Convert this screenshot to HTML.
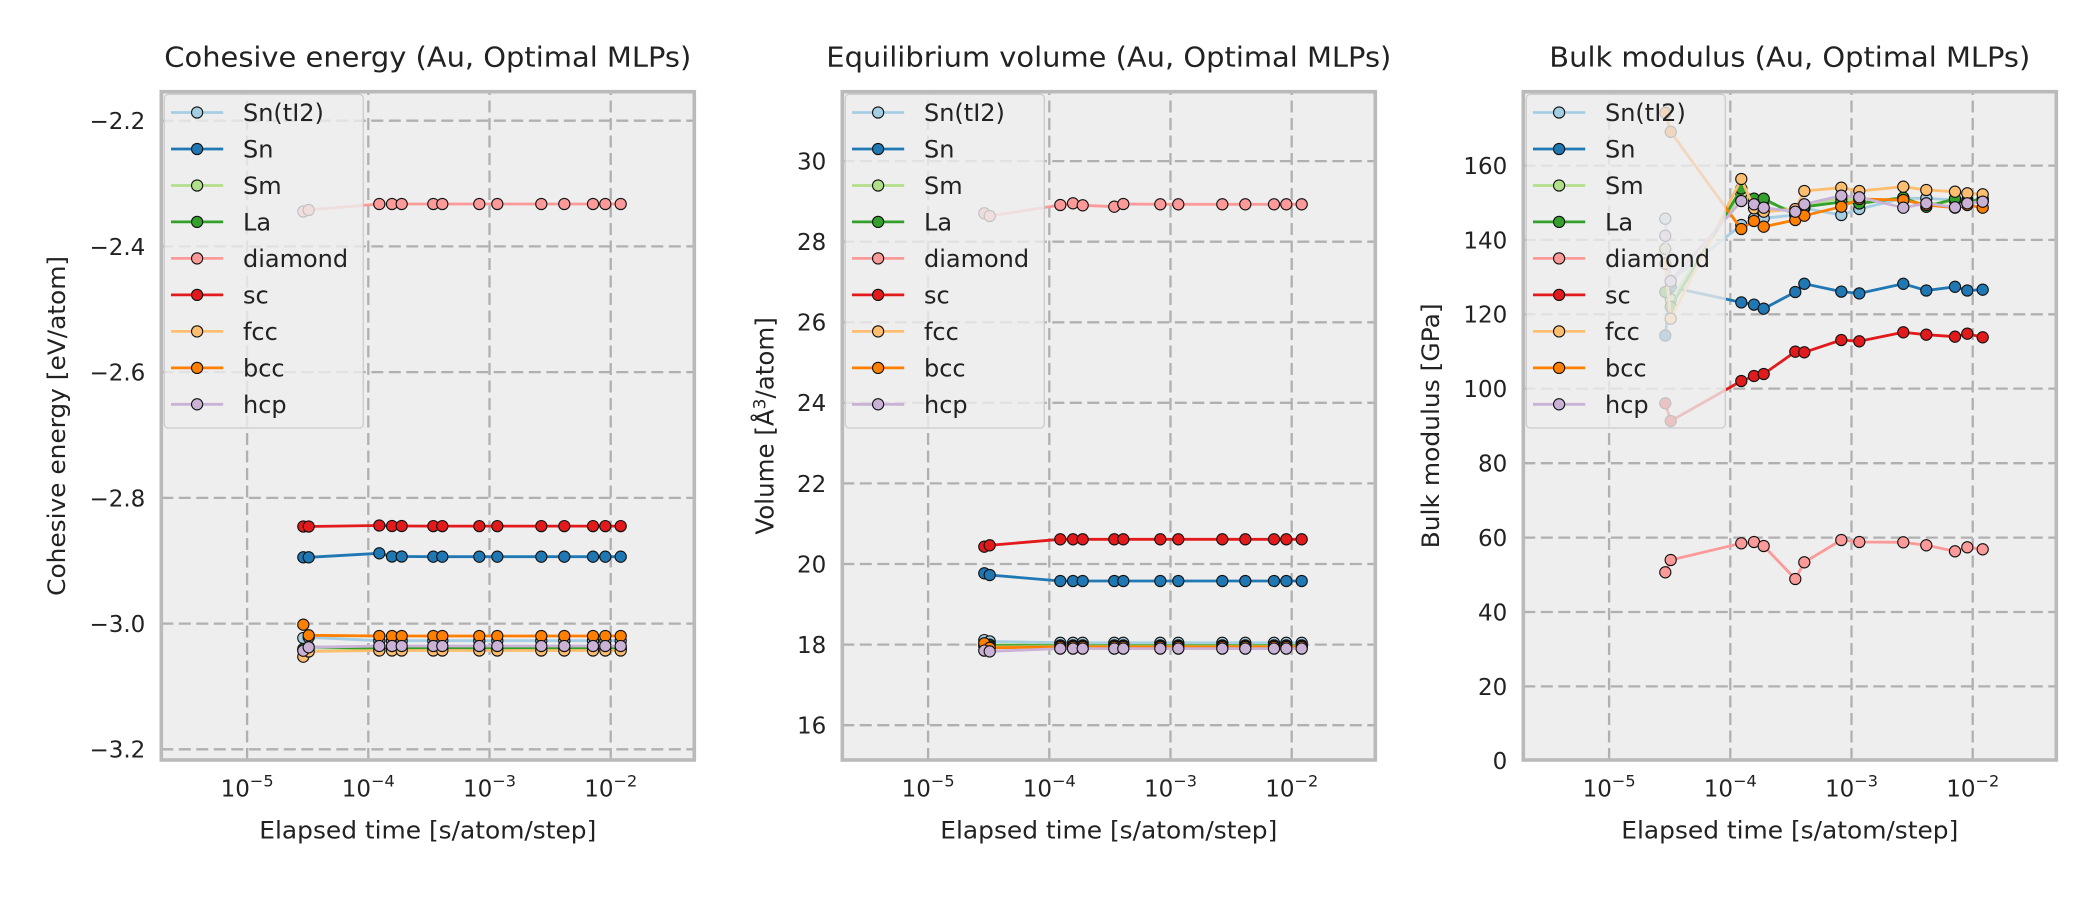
<!DOCTYPE html>
<html><head><meta charset="utf-8"><style>
html,body{margin:0;padding:0;background:#fff;}
svg{display:block;}
text{font-family:"DejaVu Sans","Liberation Sans",sans-serif;fill:#222;}
.g line{stroke:#b0b0b0;stroke-width:2.3;stroke-dasharray:12 5.5;}
.pl{fill:none;stroke-width:2.8;stroke-linejoin:round;stroke-linecap:round;}
.sp{fill:none;stroke:#bababa;stroke-width:3.6;}
.t{font-size:27.6px;}
.l{font-size:23px;}
.lb{font-size:24px;}
.lg{font-size:24px;}
</style></head><body>
<svg width="2100" height="900" viewBox="0 0 2100 900">
<defs><circle id="m" r="5.6" stroke="#111" stroke-width="1.1"/></defs>
<rect width="2100" height="900" fill="#fff"/>

<!-- ================= PANEL 1 ================= -->
<rect x="161.3" y="91.7" width="533" height="668.3" fill="#eeeeee"/>
<g class="g">
<line x1="161.3" y1="120.7" x2="694.3" y2="120.7"/>
<line x1="161.3" y1="246.4" x2="694.3" y2="246.4"/>
<line x1="161.3" y1="372.1" x2="694.3" y2="372.1"/>
<line x1="161.3" y1="497.9" x2="694.3" y2="497.9"/>
<line x1="161.3" y1="623.6" x2="694.3" y2="623.6"/>
<line x1="161.3" y1="749.3" x2="694.3" y2="749.3"/>
<line x1="247.1" y1="760" x2="247.1" y2="91.7"/>
<line x1="368.3" y1="760" x2="368.3" y2="91.7"/>
<line x1="489.5" y1="760" x2="489.5" y2="91.7"/>
<line x1="610.7" y1="760" x2="610.7" y2="91.7"/>
</g>
<polyline class="pl" stroke="#a6cee3" points="303.3,638 308.7,637.3 379.3,640.7 392,640.7 401.7,640.7 433.3,640.7 442.3,640.7 479.3,640.7 497.3,640.7 541.3,640.7 564.3,640.7 593,640.7 605.3,640.7 620.7,640.7"/>
<g fill="#a6cee3"><use href="#m" x="303.3" y="638"/><use href="#m" x="308.7" y="637.3"/><use href="#m" x="379.3" y="640.7"/><use href="#m" x="392" y="640.7"/><use href="#m" x="401.7" y="640.7"/><use href="#m" x="433.3" y="640.7"/><use href="#m" x="442.3" y="640.7"/><use href="#m" x="479.3" y="640.7"/><use href="#m" x="497.3" y="640.7"/><use href="#m" x="541.3" y="640.7"/><use href="#m" x="564.3" y="640.7"/><use href="#m" x="593" y="640.7"/><use href="#m" x="605.3" y="640.7"/><use href="#m" x="620.7" y="640.7"/></g>
<polyline class="pl" stroke="#1f78b4" points="303.3,557.3 308.7,557.3 379.3,553.3 392,556.5 401.7,556.5 433.3,556.7 442.3,556.7 479.3,556.7 497.3,556.7 541.3,556.7 564.3,556.7 593,556.7 605.3,556.7 620.7,556.7"/>
<g fill="#1f78b4"><use href="#m" x="303.3" y="557.3"/><use href="#m" x="308.7" y="557.3"/><use href="#m" x="379.3" y="553.3"/><use href="#m" x="392" y="556.5"/><use href="#m" x="401.7" y="556.5"/><use href="#m" x="433.3" y="556.7"/><use href="#m" x="442.3" y="556.7"/><use href="#m" x="479.3" y="556.7"/><use href="#m" x="497.3" y="556.7"/><use href="#m" x="541.3" y="556.7"/><use href="#m" x="564.3" y="556.7"/><use href="#m" x="593" y="556.7"/><use href="#m" x="605.3" y="556.7"/><use href="#m" x="620.7" y="556.7"/></g>
<polyline class="pl" stroke="#b2df8a" points="303.3,650 308.7,648 379.3,648.8 392,648.8 401.7,648.8 433.3,648.8 442.3,648.8 479.3,648.8 497.3,648.8 541.3,648.8 564.3,648.8 593,648.8 605.3,648.8 620.7,648.8"/>
<g fill="#b2df8a"><use href="#m" x="303.3" y="650"/><use href="#m" x="308.7" y="648"/><use href="#m" x="379.3" y="648.8"/><use href="#m" x="392" y="648.8"/><use href="#m" x="401.7" y="648.8"/><use href="#m" x="433.3" y="648.8"/><use href="#m" x="442.3" y="648.8"/><use href="#m" x="479.3" y="648.8"/><use href="#m" x="497.3" y="648.8"/><use href="#m" x="541.3" y="648.8"/><use href="#m" x="564.3" y="648.8"/><use href="#m" x="593" y="648.8"/><use href="#m" x="605.3" y="648.8"/><use href="#m" x="620.7" y="648.8"/></g>
<polyline class="pl" stroke="#33a02c" points="303.3,649 308.7,647 379.3,648.3 392,648.3 401.7,648.3 433.3,648.3 442.3,648.3 479.3,648.3 497.3,648.3 541.3,648.3 564.3,648.3 593,648.3 605.3,648.3 620.7,648.3"/>
<g fill="#33a02c"><use href="#m" x="303.3" y="649"/><use href="#m" x="308.7" y="647"/><use href="#m" x="379.3" y="648.3"/><use href="#m" x="392" y="648.3"/><use href="#m" x="401.7" y="648.3"/><use href="#m" x="433.3" y="648.3"/><use href="#m" x="442.3" y="648.3"/><use href="#m" x="479.3" y="648.3"/><use href="#m" x="497.3" y="648.3"/><use href="#m" x="541.3" y="648.3"/><use href="#m" x="564.3" y="648.3"/><use href="#m" x="593" y="648.3"/><use href="#m" x="605.3" y="648.3"/><use href="#m" x="620.7" y="648.3"/></g>
<polyline class="pl" stroke="#fb9a99" points="303.3,211.5 308.7,210 379.3,204 392,204 401.7,204 433.3,204 442.3,204 479.3,204 497.3,204 541.3,204 564.3,204 593,204 605.3,204 620.7,204"/>
<g fill="#fb9a99"><use href="#m" x="303.3" y="211.5"/><use href="#m" x="308.7" y="210"/><use href="#m" x="379.3" y="204"/><use href="#m" x="392" y="204"/><use href="#m" x="401.7" y="204"/><use href="#m" x="433.3" y="204"/><use href="#m" x="442.3" y="204"/><use href="#m" x="479.3" y="204"/><use href="#m" x="497.3" y="204"/><use href="#m" x="541.3" y="204"/><use href="#m" x="564.3" y="204"/><use href="#m" x="593" y="204"/><use href="#m" x="605.3" y="204"/><use href="#m" x="620.7" y="204"/></g>
<polyline class="pl" stroke="#e31a1c" points="303.3,526.5 308.7,526.5 379.3,525.5 392,526 401.7,526 433.3,526.1 442.3,526.1 479.3,526.1 497.3,526.1 541.3,526.1 564.3,526.1 593,526.1 605.3,526.1 620.7,526.1"/>
<g fill="#e31a1c"><use href="#m" x="303.3" y="526.5"/><use href="#m" x="308.7" y="526.5"/><use href="#m" x="379.3" y="525.5"/><use href="#m" x="392" y="526"/><use href="#m" x="401.7" y="526"/><use href="#m" x="433.3" y="526.1"/><use href="#m" x="442.3" y="526.1"/><use href="#m" x="479.3" y="526.1"/><use href="#m" x="497.3" y="526.1"/><use href="#m" x="541.3" y="526.1"/><use href="#m" x="564.3" y="526.1"/><use href="#m" x="593" y="526.1"/><use href="#m" x="605.3" y="526.1"/><use href="#m" x="620.7" y="526.1"/></g>
<polyline class="pl" stroke="#fdbf6f" points="303.3,656.7 308.7,651.5 379.3,650.5 392,650.5 401.7,650.5 433.3,650.5 442.3,650.5 479.3,650.5 497.3,650.5 541.3,650.5 564.3,650.5 593,650.5 605.3,650.5 620.7,650.5"/>
<g fill="#fdbf6f"><use href="#m" x="303.3" y="656.7"/><use href="#m" x="308.7" y="651.5"/><use href="#m" x="379.3" y="650.5"/><use href="#m" x="392" y="650.5"/><use href="#m" x="401.7" y="650.5"/><use href="#m" x="433.3" y="650.5"/><use href="#m" x="442.3" y="650.5"/><use href="#m" x="479.3" y="650.5"/><use href="#m" x="497.3" y="650.5"/><use href="#m" x="541.3" y="650.5"/><use href="#m" x="564.3" y="650.5"/><use href="#m" x="593" y="650.5"/><use href="#m" x="605.3" y="650.5"/><use href="#m" x="620.7" y="650.5"/></g>
<polyline class="pl" stroke="#ff7f00" points="303.3,624.7 308.7,635.3 379.3,636 392,636 401.7,636 433.3,636 442.3,636 479.3,636 497.3,636 541.3,636 564.3,636 593,636 605.3,636 620.7,636"/>
<g fill="#ff7f00"><use href="#m" x="303.3" y="624.7"/><use href="#m" x="308.7" y="635.3"/><use href="#m" x="379.3" y="636"/><use href="#m" x="392" y="636"/><use href="#m" x="401.7" y="636"/><use href="#m" x="433.3" y="636"/><use href="#m" x="442.3" y="636"/><use href="#m" x="479.3" y="636"/><use href="#m" x="497.3" y="636"/><use href="#m" x="541.3" y="636"/><use href="#m" x="564.3" y="636"/><use href="#m" x="593" y="636"/><use href="#m" x="605.3" y="636"/><use href="#m" x="620.7" y="636"/></g>
<polyline class="pl" stroke="#cab2d6" points="303.3,650.7 308.7,647.3 379.3,646 392,646 401.7,646 433.3,646 442.3,646 479.3,646 497.3,646 541.3,646 564.3,646 593,646 605.3,646 620.7,646"/>
<g fill="#cab2d6"><use href="#m" x="303.3" y="650.7"/><use href="#m" x="308.7" y="647.3"/><use href="#m" x="379.3" y="646"/><use href="#m" x="392" y="646"/><use href="#m" x="401.7" y="646"/><use href="#m" x="433.3" y="646"/><use href="#m" x="442.3" y="646"/><use href="#m" x="479.3" y="646"/><use href="#m" x="497.3" y="646"/><use href="#m" x="541.3" y="646"/><use href="#m" x="564.3" y="646"/><use href="#m" x="593" y="646"/><use href="#m" x="605.3" y="646"/><use href="#m" x="620.7" y="646"/></g>
<rect class="sp" x="161.3" y="91.7" width="533" height="668.3"/>
<g transform="translate(161.3,0)">
<rect x="3" y="94.3" width="199" height="333.7" rx="4" fill="#eeeeee" fill-opacity="0.8" stroke="#cccccc" stroke-width="1.3"/>
<g stroke-width="2.8">
<line x1="9.7" y1="112.5" x2="61.9" y2="112.5" stroke="#a6cee3"/><use href="#m" x="35.8" y="112.5" fill="#a6cee3"/>
<line x1="9.7" y1="149" x2="61.9" y2="149" stroke="#1f78b4"/><use href="#m" x="35.8" y="149" fill="#1f78b4"/>
<line x1="9.7" y1="185.5" x2="61.9" y2="185.5" stroke="#b2df8a"/><use href="#m" x="35.8" y="185.5" fill="#b2df8a"/>
<line x1="9.7" y1="221.9" x2="61.9" y2="221.9" stroke="#33a02c"/><use href="#m" x="35.8" y="221.9" fill="#33a02c"/>
<line x1="9.7" y1="258.4" x2="61.9" y2="258.4" stroke="#fb9a99"/><use href="#m" x="35.8" y="258.4" fill="#fb9a99"/>
<line x1="9.7" y1="294.9" x2="61.9" y2="294.9" stroke="#e31a1c"/><use href="#m" x="35.8" y="294.9" fill="#e31a1c"/>
<line x1="9.7" y1="331.4" x2="61.9" y2="331.4" stroke="#fdbf6f"/><use href="#m" x="35.8" y="331.4" fill="#fdbf6f"/>
<line x1="9.7" y1="367.9" x2="61.9" y2="367.9" stroke="#ff7f00"/><use href="#m" x="35.8" y="367.9" fill="#ff7f00"/>
<line x1="9.7" y1="404.3" x2="61.9" y2="404.3" stroke="#cab2d6"/><use href="#m" x="35.8" y="404.3" fill="#cab2d6"/>
</g>
<g class="lg">
<text x="81.7" y="121.2">Sn(tI2)</text><text x="81.7" y="157.7">Sn</text><text x="81.7" y="194.2">Sm</text><text x="81.7" y="230.6">La</text><text x="81.7" y="267.1">diamond</text><text x="81.7" y="303.6">sc</text><text x="81.7" y="340.1">fcc</text><text x="81.7" y="376.6">bcc</text><text x="81.7" y="413">hcp</text>
</g>
</g>
<text class="t" x="427.8" y="66.7" text-anchor="middle" textLength="527" lengthAdjust="spacingAndGlyphs">Cohesive energy (Au, Optimal MLPs)</text>
<g class="l" text-anchor="end">
<text x="145.3" y="129.1">−2.2</text><text x="145.3" y="254.8">−2.4</text><text x="145.3" y="380.5">−2.6</text><text x="145.3" y="506.3">−2.8</text><text x="145.3" y="632">−3.0</text><text x="145.3" y="757.7">−3.2</text>
</g>
<g class="l" text-anchor="middle">
<text x="247.1" y="796.7">10<tspan dy="-10" font-size="16.1">−5</tspan></text>
<text x="368.3" y="796.7">10<tspan dy="-10" font-size="16.1">−4</tspan></text>
<text x="489.5" y="796.7">10<tspan dy="-10" font-size="16.1">−3</tspan></text>
<text x="610.7" y="796.7">10<tspan dy="-10" font-size="16.1">−2</tspan></text>
</g>
<g class="lb" text-anchor="middle">
<text x="427.8" y="838.3" textLength="337" lengthAdjust="spacingAndGlyphs">Elapsed time [s/atom/step]</text>
<text transform="translate(65,425.9) rotate(-90)" textLength="340" lengthAdjust="spacingAndGlyphs">Cohesive energy [eV/atom]</text>
</g>

<!-- ================= PANEL 2 ================= -->
<rect x="842.3" y="91.7" width="533" height="668.3" fill="#eeeeee"/>
<g class="g">
<line x1="842.3" y1="161.1" x2="1375.3" y2="161.1"/>
<line x1="842.3" y1="241.7" x2="1375.3" y2="241.7"/>
<line x1="842.3" y1="322.3" x2="1375.3" y2="322.3"/>
<line x1="842.3" y1="402.8" x2="1375.3" y2="402.8"/>
<line x1="842.3" y1="483.4" x2="1375.3" y2="483.4"/>
<line x1="842.3" y1="564" x2="1375.3" y2="564"/>
<line x1="842.3" y1="644.6" x2="1375.3" y2="644.6"/>
<line x1="842.3" y1="725.2" x2="1375.3" y2="725.2"/>
<line x1="928.1" y1="760" x2="928.1" y2="91.7"/>
<line x1="1049.3" y1="760" x2="1049.3" y2="91.7"/>
<line x1="1170.5" y1="760" x2="1170.5" y2="91.7"/>
<line x1="1291.7" y1="760" x2="1291.7" y2="91.7"/>
</g>
<polyline class="pl" stroke="#a6cee3" points="984.3,640.1 989.7,641.4 1060.3,642.8 1073,642.8 1082.7,642.8 1114.3,642.8 1123.3,642.8 1160.3,642.8 1178.3,642.8 1222.3,642.8 1245.3,642.8 1274,642.8 1286.3,642.8 1301.7,642.8"/>
<g fill="#a6cee3"><use href="#m" x="984.3" y="640.1"/><use href="#m" x="989.7" y="641.4"/><use href="#m" x="1060.3" y="642.8"/><use href="#m" x="1073" y="642.8"/><use href="#m" x="1082.7" y="642.8"/><use href="#m" x="1114.3" y="642.8"/><use href="#m" x="1123.3" y="642.8"/><use href="#m" x="1160.3" y="642.8"/><use href="#m" x="1178.3" y="642.8"/><use href="#m" x="1222.3" y="642.8"/><use href="#m" x="1245.3" y="642.8"/><use href="#m" x="1274" y="642.8"/><use href="#m" x="1286.3" y="642.8"/><use href="#m" x="1301.7" y="642.8"/></g>
<polyline class="pl" stroke="#1f78b4" points="984.3,573.3 989.7,575 1060.3,581 1073,581 1082.7,581 1114.3,581 1123.3,581 1160.3,581 1178.3,581 1222.3,581 1245.3,581 1274,581 1286.3,581 1301.7,581"/>
<g fill="#1f78b4"><use href="#m" x="984.3" y="573.3"/><use href="#m" x="989.7" y="575"/><use href="#m" x="1060.3" y="581"/><use href="#m" x="1073" y="581"/><use href="#m" x="1082.7" y="581"/><use href="#m" x="1114.3" y="581"/><use href="#m" x="1123.3" y="581"/><use href="#m" x="1160.3" y="581"/><use href="#m" x="1178.3" y="581"/><use href="#m" x="1222.3" y="581"/><use href="#m" x="1245.3" y="581"/><use href="#m" x="1274" y="581"/><use href="#m" x="1286.3" y="581"/><use href="#m" x="1301.7" y="581"/></g>
<polyline class="pl" stroke="#b2df8a" points="984.3,643.8 989.7,644.6 1060.3,645.4 1073,645.4 1082.7,645.4 1114.3,645.4 1123.3,645.4 1160.3,645.4 1178.3,645.4 1222.3,645.4 1245.3,645.4 1274,645.4 1286.3,645.4 1301.7,645.4"/>
<g fill="#b2df8a"><use href="#m" x="984.3" y="643.8"/><use href="#m" x="989.7" y="644.6"/><use href="#m" x="1060.3" y="645.4"/><use href="#m" x="1073" y="645.4"/><use href="#m" x="1082.7" y="645.4"/><use href="#m" x="1114.3" y="645.4"/><use href="#m" x="1123.3" y="645.4"/><use href="#m" x="1160.3" y="645.4"/><use href="#m" x="1178.3" y="645.4"/><use href="#m" x="1222.3" y="645.4"/><use href="#m" x="1245.3" y="645.4"/><use href="#m" x="1274" y="645.4"/><use href="#m" x="1286.3" y="645.4"/><use href="#m" x="1301.7" y="645.4"/></g>
<polyline class="pl" stroke="#33a02c" points="984.3,644.6 989.7,645.4 1060.3,645.8 1073,645.8 1082.7,645.8 1114.3,645.8 1123.3,645.8 1160.3,645.8 1178.3,645.8 1222.3,645.8 1245.3,645.8 1274,645.8 1286.3,645.8 1301.7,645.8"/>
<g fill="#33a02c"><use href="#m" x="984.3" y="644.6"/><use href="#m" x="989.7" y="645.4"/><use href="#m" x="1060.3" y="645.8"/><use href="#m" x="1073" y="645.8"/><use href="#m" x="1082.7" y="645.8"/><use href="#m" x="1114.3" y="645.8"/><use href="#m" x="1123.3" y="645.8"/><use href="#m" x="1160.3" y="645.8"/><use href="#m" x="1178.3" y="645.8"/><use href="#m" x="1222.3" y="645.8"/><use href="#m" x="1245.3" y="645.8"/><use href="#m" x="1274" y="645.8"/><use href="#m" x="1286.3" y="645.8"/><use href="#m" x="1301.7" y="645.8"/></g>
<polyline class="pl" stroke="#fb9a99" points="984.3,213.3 989.7,216 1060.3,205 1073,203.3 1082.7,205.3 1114.3,206.7 1123.3,204 1160.3,204.3 1178.3,204.3 1222.3,204.3 1245.3,204.3 1274,204.3 1286.3,204.3 1301.7,204.3"/>
<g fill="#fb9a99"><use href="#m" x="984.3" y="213.3"/><use href="#m" x="989.7" y="216"/><use href="#m" x="1060.3" y="205"/><use href="#m" x="1073" y="203.3"/><use href="#m" x="1082.7" y="205.3"/><use href="#m" x="1114.3" y="206.7"/><use href="#m" x="1123.3" y="204"/><use href="#m" x="1160.3" y="204.3"/><use href="#m" x="1178.3" y="204.3"/><use href="#m" x="1222.3" y="204.3"/><use href="#m" x="1245.3" y="204.3"/><use href="#m" x="1274" y="204.3"/><use href="#m" x="1286.3" y="204.3"/><use href="#m" x="1301.7" y="204.3"/></g>
<polyline class="pl" stroke="#e31a1c" points="984.3,546.7 989.7,545.3 1060.3,539.3 1073,539.3 1082.7,539.3 1114.3,539.3 1123.3,539.3 1160.3,539.3 1178.3,539.3 1222.3,539.3 1245.3,539.3 1274,539.3 1286.3,539.3 1301.7,539.3"/>
<g fill="#e31a1c"><use href="#m" x="984.3" y="546.7"/><use href="#m" x="989.7" y="545.3"/><use href="#m" x="1060.3" y="539.3"/><use href="#m" x="1073" y="539.3"/><use href="#m" x="1082.7" y="539.3"/><use href="#m" x="1114.3" y="539.3"/><use href="#m" x="1123.3" y="539.3"/><use href="#m" x="1160.3" y="539.3"/><use href="#m" x="1178.3" y="539.3"/><use href="#m" x="1222.3" y="539.3"/><use href="#m" x="1245.3" y="539.3"/><use href="#m" x="1274" y="539.3"/><use href="#m" x="1286.3" y="539.3"/><use href="#m" x="1301.7" y="539.3"/></g>
<polyline class="pl" stroke="#fdbf6f" points="984.3,646.2 989.7,647 1060.3,646.6 1073,646.6 1082.7,646.6 1114.3,646.6 1123.3,646.6 1160.3,646.6 1178.3,646.6 1222.3,646.6 1245.3,646.6 1274,646.6 1286.3,646.6 1301.7,646.6"/>
<g fill="#fdbf6f"><use href="#m" x="984.3" y="646.2"/><use href="#m" x="989.7" y="647"/><use href="#m" x="1060.3" y="646.6"/><use href="#m" x="1073" y="646.6"/><use href="#m" x="1082.7" y="646.6"/><use href="#m" x="1114.3" y="646.6"/><use href="#m" x="1123.3" y="646.6"/><use href="#m" x="1160.3" y="646.6"/><use href="#m" x="1178.3" y="646.6"/><use href="#m" x="1222.3" y="646.6"/><use href="#m" x="1245.3" y="646.6"/><use href="#m" x="1274" y="646.6"/><use href="#m" x="1286.3" y="646.6"/><use href="#m" x="1301.7" y="646.6"/></g>
<polyline class="pl" stroke="#ff7f00" points="984.3,643.3 989.7,647.8 1060.3,647 1073,647 1082.7,647 1114.3,647 1123.3,647 1160.3,647 1178.3,647 1222.3,647 1245.3,647 1274,647 1286.3,647 1301.7,647"/>
<g fill="#ff7f00"><use href="#m" x="984.3" y="643.3"/><use href="#m" x="989.7" y="647.8"/><use href="#m" x="1060.3" y="647"/><use href="#m" x="1073" y="647"/><use href="#m" x="1082.7" y="647"/><use href="#m" x="1114.3" y="647"/><use href="#m" x="1123.3" y="647"/><use href="#m" x="1160.3" y="647"/><use href="#m" x="1178.3" y="647"/><use href="#m" x="1222.3" y="647"/><use href="#m" x="1245.3" y="647"/><use href="#m" x="1274" y="647"/><use href="#m" x="1286.3" y="647"/><use href="#m" x="1301.7" y="647"/></g>
<polyline class="pl" stroke="#cab2d6" points="984.3,650.6 989.7,651.4 1060.3,648.6 1073,648.6 1082.7,648.6 1114.3,648.6 1123.3,648.6 1160.3,648.6 1178.3,648.6 1222.3,648.6 1245.3,648.6 1274,648.6 1286.3,648.6 1301.7,648.6"/>
<g fill="#cab2d6"><use href="#m" x="984.3" y="650.6"/><use href="#m" x="989.7" y="651.4"/><use href="#m" x="1060.3" y="648.6"/><use href="#m" x="1073" y="648.6"/><use href="#m" x="1082.7" y="648.6"/><use href="#m" x="1114.3" y="648.6"/><use href="#m" x="1123.3" y="648.6"/><use href="#m" x="1160.3" y="648.6"/><use href="#m" x="1178.3" y="648.6"/><use href="#m" x="1222.3" y="648.6"/><use href="#m" x="1245.3" y="648.6"/><use href="#m" x="1274" y="648.6"/><use href="#m" x="1286.3" y="648.6"/><use href="#m" x="1301.7" y="648.6"/></g>
<rect class="sp" x="842.3" y="91.7" width="533" height="668.3"/>
<g transform="translate(842.3,0)">
<rect x="3" y="94.3" width="199" height="333.7" rx="4" fill="#eeeeee" fill-opacity="0.8" stroke="#cccccc" stroke-width="1.3"/>
<g stroke-width="2.8">
<line x1="9.7" y1="112.5" x2="61.9" y2="112.5" stroke="#a6cee3"/><use href="#m" x="35.8" y="112.5" fill="#a6cee3"/>
<line x1="9.7" y1="149" x2="61.9" y2="149" stroke="#1f78b4"/><use href="#m" x="35.8" y="149" fill="#1f78b4"/>
<line x1="9.7" y1="185.5" x2="61.9" y2="185.5" stroke="#b2df8a"/><use href="#m" x="35.8" y="185.5" fill="#b2df8a"/>
<line x1="9.7" y1="221.9" x2="61.9" y2="221.9" stroke="#33a02c"/><use href="#m" x="35.8" y="221.9" fill="#33a02c"/>
<line x1="9.7" y1="258.4" x2="61.9" y2="258.4" stroke="#fb9a99"/><use href="#m" x="35.8" y="258.4" fill="#fb9a99"/>
<line x1="9.7" y1="294.9" x2="61.9" y2="294.9" stroke="#e31a1c"/><use href="#m" x="35.8" y="294.9" fill="#e31a1c"/>
<line x1="9.7" y1="331.4" x2="61.9" y2="331.4" stroke="#fdbf6f"/><use href="#m" x="35.8" y="331.4" fill="#fdbf6f"/>
<line x1="9.7" y1="367.9" x2="61.9" y2="367.9" stroke="#ff7f00"/><use href="#m" x="35.8" y="367.9" fill="#ff7f00"/>
<line x1="9.7" y1="404.3" x2="61.9" y2="404.3" stroke="#cab2d6"/><use href="#m" x="35.8" y="404.3" fill="#cab2d6"/>
</g>
<g class="lg">
<text x="81.7" y="121.2">Sn(tI2)</text><text x="81.7" y="157.7">Sn</text><text x="81.7" y="194.2">Sm</text><text x="81.7" y="230.6">La</text><text x="81.7" y="267.1">diamond</text><text x="81.7" y="303.6">sc</text><text x="81.7" y="340.1">fcc</text><text x="81.7" y="376.6">bcc</text><text x="81.7" y="413">hcp</text>
</g>
</g>
<text class="t" x="1108.8" y="66.7" text-anchor="middle" textLength="565" lengthAdjust="spacingAndGlyphs">Equilibrium volume (Au, Optimal MLPs)</text>
<g class="l" text-anchor="end">
<text x="826.3" y="169.5">30</text><text x="826.3" y="250.1">28</text><text x="826.3" y="330.7">26</text><text x="826.3" y="411.2">24</text><text x="826.3" y="491.8">22</text><text x="826.3" y="572.4">20</text><text x="826.3" y="653">18</text><text x="826.3" y="733.6">16</text>
</g>
<g class="l" text-anchor="middle">
<text x="928.1" y="796.7">10<tspan dy="-10" font-size="16.1">−5</tspan></text>
<text x="1049.3" y="796.7">10<tspan dy="-10" font-size="16.1">−4</tspan></text>
<text x="1170.5" y="796.7">10<tspan dy="-10" font-size="16.1">−3</tspan></text>
<text x="1291.7" y="796.7">10<tspan dy="-10" font-size="16.1">−2</tspan></text>
</g>
<g class="lb" text-anchor="middle">
<text x="1108.8" y="838.3" textLength="337" lengthAdjust="spacingAndGlyphs">Elapsed time [s/atom/step]</text>
<text transform="translate(773.4,425.9) rotate(-90)" font-size="24.5">Volume [Å<tspan dy="-8" font-size="17">3</tspan><tspan dy="8">/atom]</tspan></text>
</g>

<!-- ================= PANEL 3 ================= -->
<rect x="1523.3" y="91.7" width="533" height="668.3" fill="#eeeeee"/>
<g class="g">
<line x1="1523.3" y1="165.6" x2="2056.3" y2="165.6"/>
<line x1="1523.3" y1="239.9" x2="2056.3" y2="239.9"/>
<line x1="1523.3" y1="314.3" x2="2056.3" y2="314.3"/>
<line x1="1523.3" y1="388.6" x2="2056.3" y2="388.6"/>
<line x1="1523.3" y1="463.2" x2="2056.3" y2="463.2"/>
<line x1="1523.3" y1="537.6" x2="2056.3" y2="537.6"/>
<line x1="1523.3" y1="612" x2="2056.3" y2="612"/>
<line x1="1523.3" y1="686.4" x2="2056.3" y2="686.4"/>
<line x1="1609.1" y1="760" x2="1609.1" y2="91.7"/>
<line x1="1730.3" y1="760" x2="1730.3" y2="91.7"/>
<line x1="1851.5" y1="760" x2="1851.5" y2="91.7"/>
<line x1="1972.7" y1="760" x2="1972.7" y2="91.7"/>
</g>
<polyline class="pl" stroke="#a6cee3" points="1665.3,218.7 1670.7,280.8 1741.3,225 1754,218.3 1763.7,218.3 1795.3,215 1804.3,208.3 1841.3,215 1859.3,209 1903.3,198.3 1926.3,198.3 1955,200 1967.3,200 1982.7,200"/>
<g fill="#a6cee3"><use href="#m" x="1665.3" y="218.7"/><use href="#m" x="1670.7" y="280.8"/><use href="#m" x="1741.3" y="225"/><use href="#m" x="1754" y="218.3"/><use href="#m" x="1763.7" y="218.3"/><use href="#m" x="1795.3" y="215"/><use href="#m" x="1804.3" y="208.3"/><use href="#m" x="1841.3" y="215"/><use href="#m" x="1859.3" y="209"/><use href="#m" x="1903.3" y="198.3"/><use href="#m" x="1926.3" y="198.3"/><use href="#m" x="1955" y="200"/><use href="#m" x="1967.3" y="200"/><use href="#m" x="1982.7" y="200"/></g>
<polyline class="pl" stroke="#1f78b4" points="1665.3,335.5 1670.7,287.1 1741.3,302.4 1754,304.6 1763.7,308.7 1795.3,292 1804.3,283.8 1841.3,291.6 1859.3,293.4 1903.3,283.8 1926.3,290.5 1955,286.8 1967.3,290.5 1982.7,289.7"/>
<g fill="#1f78b4"><use href="#m" x="1665.3" y="335.5"/><use href="#m" x="1670.7" y="287.1"/><use href="#m" x="1741.3" y="302.4"/><use href="#m" x="1754" y="304.6"/><use href="#m" x="1763.7" y="308.7"/><use href="#m" x="1795.3" y="292"/><use href="#m" x="1804.3" y="283.8"/><use href="#m" x="1841.3" y="291.6"/><use href="#m" x="1859.3" y="293.4"/><use href="#m" x="1903.3" y="283.8"/><use href="#m" x="1926.3" y="290.5"/><use href="#m" x="1955" y="286.8"/><use href="#m" x="1967.3" y="290.5"/><use href="#m" x="1982.7" y="289.7"/></g>
<polyline class="pl" stroke="#b2df8a" points="1665.3,248.8 1670.7,299.4 1741.3,193.5 1754,200.9 1763.7,200.9 1795.3,212 1804.3,204.6 1841.3,198.3 1859.3,200.9 1903.3,199 1926.3,204.6 1955,200.9 1967.3,202.7 1982.7,200.9"/>
<g fill="#b2df8a"><use href="#m" x="1665.3" y="248.8"/><use href="#m" x="1670.7" y="299.4"/><use href="#m" x="1741.3" y="193.5"/><use href="#m" x="1754" y="200.9"/><use href="#m" x="1763.7" y="200.9"/><use href="#m" x="1795.3" y="212"/><use href="#m" x="1804.3" y="204.6"/><use href="#m" x="1841.3" y="198.3"/><use href="#m" x="1859.3" y="200.9"/><use href="#m" x="1903.3" y="199"/><use href="#m" x="1926.3" y="204.6"/><use href="#m" x="1955" y="200.9"/><use href="#m" x="1967.3" y="202.7"/><use href="#m" x="1982.7" y="200.9"/></g>
<polyline class="pl" stroke="#33a02c" points="1665.3,292 1670.7,306.8 1741.3,188.6 1754,198.7 1763.7,198.7 1795.3,214.6 1804.3,206.8 1841.3,202 1859.3,203.5 1903.3,197.5 1926.3,206.8 1955,198.7 1967.3,201.6 1982.7,198.7"/>
<g fill="#33a02c"><use href="#m" x="1665.3" y="292"/><use href="#m" x="1670.7" y="306.8"/><use href="#m" x="1741.3" y="188.6"/><use href="#m" x="1754" y="198.7"/><use href="#m" x="1763.7" y="198.7"/><use href="#m" x="1795.3" y="214.6"/><use href="#m" x="1804.3" y="206.8"/><use href="#m" x="1841.3" y="202"/><use href="#m" x="1859.3" y="203.5"/><use href="#m" x="1903.3" y="197.5"/><use href="#m" x="1926.3" y="206.8"/><use href="#m" x="1955" y="198.7"/><use href="#m" x="1967.3" y="201.6"/><use href="#m" x="1982.7" y="198.7"/></g>
<polyline class="pl" stroke="#fb9a99" points="1665.3,572.3 1670.7,560 1741.3,543.3 1754,542 1763.7,546 1795.3,579 1804.3,562.3 1841.3,540 1859.3,542 1903.3,542.3 1926.3,545.3 1955,551.3 1967.3,547.3 1982.7,549.3"/>
<g fill="#fb9a99"><use href="#m" x="1665.3" y="572.3"/><use href="#m" x="1670.7" y="560"/><use href="#m" x="1741.3" y="543.3"/><use href="#m" x="1754" y="542"/><use href="#m" x="1763.7" y="546"/><use href="#m" x="1795.3" y="579"/><use href="#m" x="1804.3" y="562.3"/><use href="#m" x="1841.3" y="540"/><use href="#m" x="1859.3" y="542"/><use href="#m" x="1903.3" y="542.3"/><use href="#m" x="1926.3" y="545.3"/><use href="#m" x="1955" y="551.3"/><use href="#m" x="1967.3" y="547.3"/><use href="#m" x="1982.7" y="549.3"/></g>
<polyline class="pl" stroke="#e31a1c" points="1665.3,403.3 1670.7,421 1741.3,381 1754,376 1763.7,374 1795.3,351.7 1804.3,352.3 1841.3,340 1859.3,341.3 1903.3,332.3 1926.3,334.7 1955,336.7 1967.3,333.7 1982.7,337.3"/>
<g fill="#e31a1c"><use href="#m" x="1665.3" y="403.3"/><use href="#m" x="1670.7" y="421"/><use href="#m" x="1741.3" y="381"/><use href="#m" x="1754" y="376"/><use href="#m" x="1763.7" y="374"/><use href="#m" x="1795.3" y="351.7"/><use href="#m" x="1804.3" y="352.3"/><use href="#m" x="1841.3" y="340"/><use href="#m" x="1859.3" y="341.3"/><use href="#m" x="1903.3" y="332.3"/><use href="#m" x="1926.3" y="334.7"/><use href="#m" x="1955" y="336.7"/><use href="#m" x="1967.3" y="333.7"/><use href="#m" x="1982.7" y="337.3"/></g>
<polyline class="pl" stroke="#fdbf6f" points="1665.3,263.7 1670.7,318.7 1741.3,179 1754,208.3 1763.7,211.7 1795.3,209 1804.3,191 1841.3,187.7 1859.3,191 1903.3,186.7 1926.3,190 1955,191.7 1967.3,193.3 1982.7,194.3"/>
<g fill="#fdbf6f"><use href="#m" x="1665.3" y="263.7"/><use href="#m" x="1670.7" y="318.7"/><use href="#m" x="1741.3" y="179"/><use href="#m" x="1754" y="208.3"/><use href="#m" x="1763.7" y="211.7"/><use href="#m" x="1795.3" y="209"/><use href="#m" x="1804.3" y="191"/><use href="#m" x="1841.3" y="187.7"/><use href="#m" x="1859.3" y="191"/><use href="#m" x="1903.3" y="186.7"/><use href="#m" x="1926.3" y="190"/><use href="#m" x="1955" y="191.7"/><use href="#m" x="1967.3" y="193.3"/><use href="#m" x="1982.7" y="194.3"/></g>
<polyline class="pl" stroke="#ff7f00" points="1665.3,112.8 1670.7,131.8 1741.3,229 1754,221 1763.7,226.7 1795.3,220 1804.3,215.7 1841.3,206.7 1859.3,199 1903.3,200 1926.3,205 1955,207.7 1967.3,205 1982.7,207.7"/>
<g fill="#ff7f00"><use href="#m" x="1665.3" y="112.8"/><use href="#m" x="1670.7" y="131.8"/><use href="#m" x="1741.3" y="229"/><use href="#m" x="1754" y="221"/><use href="#m" x="1763.7" y="226.7"/><use href="#m" x="1795.3" y="220"/><use href="#m" x="1804.3" y="215.7"/><use href="#m" x="1841.3" y="206.7"/><use href="#m" x="1859.3" y="199"/><use href="#m" x="1903.3" y="200"/><use href="#m" x="1926.3" y="205"/><use href="#m" x="1955" y="207.7"/><use href="#m" x="1967.3" y="205"/><use href="#m" x="1982.7" y="207.7"/></g>
<polyline class="pl" stroke="#cab2d6" points="1665.3,235.8 1670.7,281.2 1741.3,201 1754,204.3 1763.7,207.7 1795.3,211.7 1804.3,204.3 1841.3,195.7 1859.3,197.3 1903.3,207.7 1926.3,203.3 1955,207.3 1967.3,203.3 1982.7,201.7"/>
<g fill="#cab2d6"><use href="#m" x="1665.3" y="235.8"/><use href="#m" x="1670.7" y="281.2"/><use href="#m" x="1741.3" y="201"/><use href="#m" x="1754" y="204.3"/><use href="#m" x="1763.7" y="207.7"/><use href="#m" x="1795.3" y="211.7"/><use href="#m" x="1804.3" y="204.3"/><use href="#m" x="1841.3" y="195.7"/><use href="#m" x="1859.3" y="197.3"/><use href="#m" x="1903.3" y="207.7"/><use href="#m" x="1926.3" y="203.3"/><use href="#m" x="1955" y="207.3"/><use href="#m" x="1967.3" y="203.3"/><use href="#m" x="1982.7" y="201.7"/></g>
<rect class="sp" x="1523.3" y="91.7" width="533" height="668.3"/>
<g transform="translate(1523.3,0)">
<rect x="3" y="94.3" width="199" height="333.7" rx="4" fill="#eeeeee" fill-opacity="0.8" stroke="#cccccc" stroke-width="1.3"/>
<g stroke-width="2.8">
<line x1="9.7" y1="112.5" x2="61.9" y2="112.5" stroke="#a6cee3"/><use href="#m" x="35.8" y="112.5" fill="#a6cee3"/>
<line x1="9.7" y1="149" x2="61.9" y2="149" stroke="#1f78b4"/><use href="#m" x="35.8" y="149" fill="#1f78b4"/>
<line x1="9.7" y1="185.5" x2="61.9" y2="185.5" stroke="#b2df8a"/><use href="#m" x="35.8" y="185.5" fill="#b2df8a"/>
<line x1="9.7" y1="221.9" x2="61.9" y2="221.9" stroke="#33a02c"/><use href="#m" x="35.8" y="221.9" fill="#33a02c"/>
<line x1="9.7" y1="258.4" x2="61.9" y2="258.4" stroke="#fb9a99"/><use href="#m" x="35.8" y="258.4" fill="#fb9a99"/>
<line x1="9.7" y1="294.9" x2="61.9" y2="294.9" stroke="#e31a1c"/><use href="#m" x="35.8" y="294.9" fill="#e31a1c"/>
<line x1="9.7" y1="331.4" x2="61.9" y2="331.4" stroke="#fdbf6f"/><use href="#m" x="35.8" y="331.4" fill="#fdbf6f"/>
<line x1="9.7" y1="367.9" x2="61.9" y2="367.9" stroke="#ff7f00"/><use href="#m" x="35.8" y="367.9" fill="#ff7f00"/>
<line x1="9.7" y1="404.3" x2="61.9" y2="404.3" stroke="#cab2d6"/><use href="#m" x="35.8" y="404.3" fill="#cab2d6"/>
</g>
<g class="lg">
<text x="81.7" y="121.2">Sn(tI2)</text><text x="81.7" y="157.7">Sn</text><text x="81.7" y="194.2">Sm</text><text x="81.7" y="230.6">La</text><text x="81.7" y="267.1">diamond</text><text x="81.7" y="303.6">sc</text><text x="81.7" y="340.1">fcc</text><text x="81.7" y="376.6">bcc</text><text x="81.7" y="413">hcp</text>
</g>
</g>
<text class="t" x="1789.8" y="66.7" text-anchor="middle" textLength="481" lengthAdjust="spacingAndGlyphs">Bulk modulus (Au, Optimal MLPs)</text>
<g class="l" text-anchor="end">
<text x="1507.3" y="174">160</text><text x="1507.3" y="248.3">140</text><text x="1507.3" y="322.7">120</text><text x="1507.3" y="397">100</text><text x="1507.3" y="471.6">80</text><text x="1507.3" y="546">60</text><text x="1507.3" y="620.4">40</text><text x="1507.3" y="694.8">20</text><text x="1507.3" y="769">0</text>
</g>
<g class="l" text-anchor="middle">
<text x="1609.1" y="796.7">10<tspan dy="-10" font-size="16.1">−5</tspan></text>
<text x="1730.3" y="796.7">10<tspan dy="-10" font-size="16.1">−4</tspan></text>
<text x="1851.5" y="796.7">10<tspan dy="-10" font-size="16.1">−3</tspan></text>
<text x="1972.7" y="796.7">10<tspan dy="-10" font-size="16.1">−2</tspan></text>
</g>
<g class="lb" text-anchor="middle">
<text x="1789.8" y="838.3" textLength="337" lengthAdjust="spacingAndGlyphs">Elapsed time [s/atom/step]</text>
<text transform="translate(1439,425.9) rotate(-90)" textLength="245" lengthAdjust="spacingAndGlyphs">Bulk modulus [GPa]</text>
</g>
</svg>
</body></html>
